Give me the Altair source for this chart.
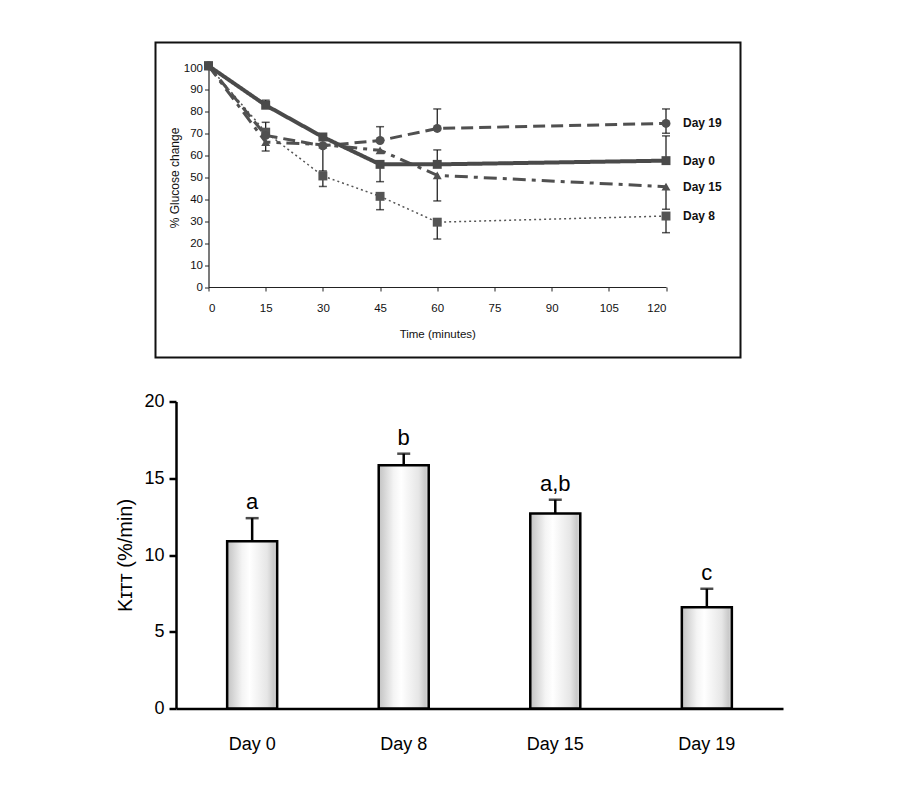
import altair as alt
import pandas as pd

# ---------------- data: insulin tolerance test curves ----------------
times = [0, 15, 30, 45, 60, 120]
series = ["Day 19", "Day 0", "Day 15", "Day 8"]
values = {
    "Day 0": [101, 83.0, 68.5, 56.0, 56.0, 57.7],
    "Day 8": [101, 70.7, 50.7, 41.4, 29.6, 32.4],
    "Day 15": [101, 66.2, 65.0, 62.4, 51.0, 45.8],
    "Day 19": [101, 69.2, 64.5, 66.9, 72.4, 74.7],
}
# error bar ends (only the drawn side of each bar)
err_hi = {
    "Day 0": [None, 85.3, 70.0, None, 62.6, 69.0],
    "Day 8": [None, 75.2, None, None, None, None],
    "Day 15": [None, None, None, None, None, None],
    "Day 19": [None, None, None, 73.2, 81.3, 81.3],
}
err_lo = {
    "Day 0": [None, None, None, 48.1, None, None],
    "Day 8": [None, None, 45.9, 35.3, 21.9, 24.8],
    "Day 15": [None, 62.1, 53.0, None, 39.3, 35.5],
    "Day 19": [None, None, None, None, None, 70.2],
}
styles = {
    "Day 0": dict(dash=[1, 0], width=4.0, shape="square", color="#4a4a4a"),
    "Day 8": dict(dash=[2, 3], width=1.5, shape="square", color="#555555"),
    "Day 15": dict(dash=[13, 6, 4, 6], width=3.0, shape="triangle-up", color="#505050"),
    "Day 19": dict(dash=[12, 6], width=3.0, shape="circle", color="#505050"),
}

# ---------------- data: K_ITT bars ----------------
bar_days = ["Day 0", "Day 8", "Day 15", "Day 19"]
kitt = [10.9, 15.85, 12.7, 6.6]
kitt_err = [1.5, 0.75, 0.9, 1.2]
letters = ["a", "b", "a,b", "c"]

NARROW = "Liberation Sans, Arial, sans-serif"
SANS = "Liberation Sans, Arial, sans-serif"

# ---------------- top chart ----------------
TOP_W, TOP_H = 585, 315
xs = alt.Scale(domain=[0, 120], range=[53, 510.5], nice=False, zero=False)
ys = alt.Scale(domain=[0, 100], range=[244.5, 25.5], nice=False)

x_axis = alt.Axis(values=[0, 15, 30, 45, 60, 75, 90, 105, 120], title="Time (minutes)",
                  offset=-(TOP_H - 244.5), domainColor="#222222", domainWidth=1.2,
                  tickColor="#222222", tickSize=4, labelFont=NARROW, labelFontSize=11.5,
                  labelColor="#111111", labelPadding=11, titleFont=NARROW, titleFontSize=11.5,
                  titleFontWeight="normal", titleColor="#111111", titlePadding=15, grid=False)
y_axis = alt.Axis(values=list(range(0, 101, 10)), title="% Glucose change",
                  offset=-53, domainColor="#222222", domainWidth=1.2,
                  tickColor="#222222", tickSize=4, labelFont=NARROW, labelFontSize=11.5,
                  labelColor="#111111", labelPadding=2, titleFont=NARROW, titleFontSize=12,
                  titleFontWeight="normal", titleColor="#111111", titlePadding=2, grid=False)

X = alt.X("time:Q", scale=xs, axis=x_axis)
Y = alt.Y("value:Q", scale=ys, axis=y_axis)

layers = []
for name in ["Day 8", "Day 15", "Day 19", "Day 0"]:
    st = styles[name]
    df = pd.DataFrame({"time": times, "value": values[name], "series": name})
    base = alt.Chart(df)
    line = base.mark_line(color=st["color"], strokeWidth=st["width"], strokeDash=st["dash"]).encode(
        x=X, y=Y)
    pts = base.mark_point(shape=st["shape"], filled=True, size=80, color=st["color"], opacity=1).encode(
        x=X, y=Y)
    rows = []
    for t, v, h, l in zip(times, values[name], err_hi[name], err_lo[name]):
        if h is not None:
            rows.append({"time": t, "value": v, "end": h})
        if l is not None:
            rows.append({"time": t, "value": v, "end": l})
    edf = pd.DataFrame(rows, columns=["time", "value", "end"])
    rule = alt.Chart(edf).mark_rule(color="#111111", strokeWidth=1.2).encode(
        x=X, y=Y, y2="end:Q")
    cap = alt.Chart(edf).mark_tick(color="#111111", thickness=1.5, size=8, orient="horizontal").encode(
        x=X, y=alt.Y("end:Q", scale=ys, axis=y_axis))
    layers += [line, rule, cap, pts]

lab_df = pd.DataFrame({"series": series, "time": [times[-1]] * 4,
                       "value": [values[s][-1] for s in series]})
labels = alt.Chart(lab_df).mark_text(align="left", baseline="middle", dx=17, font=NARROW,
                                     fontSize=12, fontWeight="bold", color="#111111").encode(
    x=X, y=Y, text="series:N")
layers.append(labels)

top = alt.layer(*layers).properties(
    width=TOP_W, height=TOP_H,
    view=alt.ViewBackground(stroke="#111111", strokeWidth=2, fill="white"))

# ---------------- bottom chart ----------------
BOT_W, BOT_H = 628, 307
bdf = pd.DataFrame({"day": bar_days, "kitt": kitt,
                    "top": [k + e for k, e in zip(kitt, kitt_err)], "letter": letters})
bx = alt.Scale(domain=bar_days, range=[20.5, 627.5], paddingInner=0.67, paddingOuter=0.3375)
by = alt.Scale(domain=[0, 20], nice=False)

grad = alt.Gradient(gradient="linear", x1=0, x2=1, y1=0, y2=0, stops=[
    alt.GradientStop(color="#c2c2c2", offset=0),
    alt.GradientStop(color="#f4f4f4", offset=0.3),
    alt.GradientStop(color="#ffffff", offset=0.45),
    alt.GradientStop(color="#e6e6e6", offset=0.8),
    alt.GradientStop(color="#cacaca", offset=0.93),
    alt.GradientStop(color="#dcdcdc", offset=1),
])

bx_axis = alt.Axis(title=None, labelAngle=0, ticks=False, domainColor="black", domainWidth=2.5,
                   labelFont=SANS, labelFontSize=18, labelColor="black", labelPadding=27, grid=False)
by_axis = alt.Axis(values=[0, 5, 10, 15, 20], offset=-20.5, domainColor="black", domainWidth=2.5,
                   tickColor="black", tickWidth=2.5, tickSize=7, labelFont=SANS, labelFontSize=18,
                   labelColor="black", labelPadding=5, title="K\u026a\u1d1b\u1d1b (%/min)",
                   titleFont=SANS, titleFontSize=20, titleFontWeight="normal", titleColor="black",
                   titlePadding=8, grid=False)

BX = alt.X("day:N", scale=bx, sort=bar_days, axis=bx_axis)
bars = alt.Chart(bdf).mark_bar(color=grad, stroke="black", strokeWidth=2.5).encode(
    x=BX, y=alt.Y("kitt:Q", scale=by, axis=by_axis))
brule = alt.Chart(bdf).mark_rule(color="black", strokeWidth=2.5).encode(
    x=BX, y=alt.Y("kitt:Q", scale=by, axis=by_axis), y2="top:Q")
bcap = alt.Chart(bdf).mark_tick(color="black", thickness=2.5, size=13, orient="horizontal").encode(
    x=BX, y=alt.Y("top:Q", scale=by, axis=by_axis))
btext = alt.Chart(bdf).mark_text(baseline="alphabetic", dy=-9, font=SANS, fontSize=22,
                                 color="black").encode(
    x=BX, y=alt.Y("top:Q", scale=by, axis=by_axis), text="letter:N")

bottom = alt.layer(bars, brule, bcap, btext).properties(
    width=BOT_W, height=BOT_H,
    view=alt.ViewBackground(strokeWidth=0, fill="white"))

chart = alt.vconcat(top, bottom, spacing=44, bounds="flush").properties(
    autosize=alt.AutoSizeParams(type="none"),
    padding={"left": 147.5, "top": 34.5, "right": 736.5, "bottom": 740},
    background="white",
).configure_view(strokeWidth=0)

chart.save("out.html", embed_options={"renderer": "svg", "actions": False})
